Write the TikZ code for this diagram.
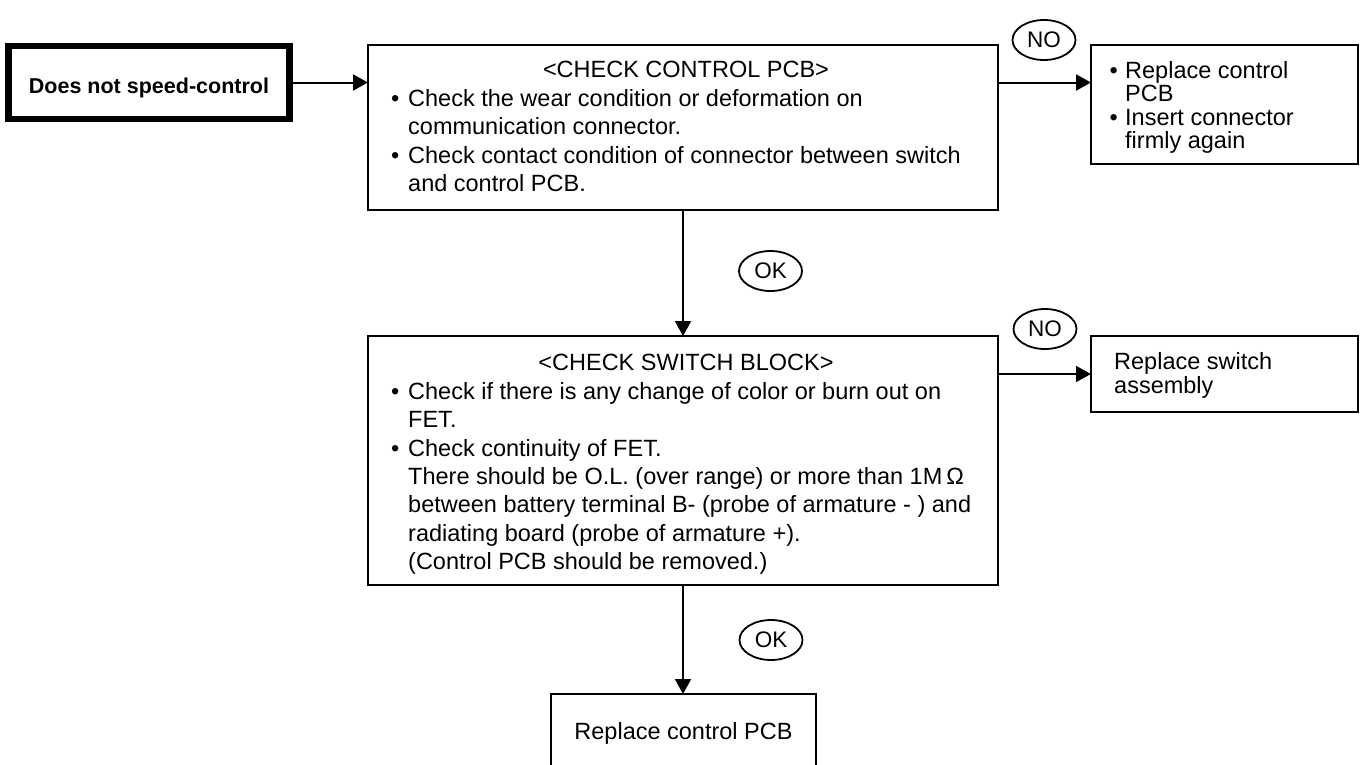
\documentclass[tikz,border=0pt]{standalone}
\usepackage{fontspec}
\setmainfont{Liberation Sans}
\usetikzlibrary{arrows.meta,shapes.geometric}
% bullet with a fixed-width slot, and the matching hanging indent
\newcommand{\bitem}[1][17pt]{\makebox[#1][l]{•}}
\newcommand{\bcont}[1][17pt]{\hspace*{#1}}
\begin{document}
\begin{tikzpicture}[x=1pt,y=-1pt,
  frame/.style={draw, rectangle, line width=2pt, inner sep=0pt, outer sep=0pt, anchor=north west},
  body/.style={inner sep=0pt, anchor=north west, align=left, font=\fontsize{23.5}{28.3}\selectfont},
  side/.style={inner sep=0pt, anchor=north west, align=left, font=\fontsize{23.5}{23.5}\selectfont},
  head/.style={inner sep=0pt, anchor=north, font=\fontsize{23.5}{28.3}\selectfont},
  verdict/.style={draw, ellipse, line width=1.8pt, inner sep=0pt, minimum width=63pt, minimum height=40pt, font=\fontsize{22.5}{22.5}\selectfont},
  flow/.style={line width=2pt, -{Triangle[length=15pt,width=16pt]}},
]
\fill[white] (0,0) rectangle (1361,764);
\useasboundingbox (0,0) rectangle (1361,764);
\clip (0,0) rectangle (1361,764);

% start condition
\node[frame, line width=6.5pt, minimum width=281pt, minimum height=73pt] (start) at (8.5,46) {};
\node[anchor=base, inner sep=0pt, font=\bfseries\fontsize{21.5}{21.5}\selectfont] (startlabel) at (149,93) {Does not speed-control};

% control PCB check
\node[frame, minimum width=630pt, minimum height=165pt] (pcb) at (368,45) {};
\node[head] (pcbhead) at (686,61) {<CHECK CONTROL PCB>};
\node[body] (pcbbody) at (391,89.3) {\bitem Check the wear condition or deformation on\\
  \bcont communication connector.\\
  \bitem Check contact condition of connector between switch\\
  \bcont and control PCB.};

\node[frame, minimum width=267pt, minimum height=119pt] (fixpcb) at (1091,45) {};
\node[side] (fixpcbtext) at (1109.5,61) {\bitem[15.5pt]Replace control\\
  \bcont[15.5pt]PCB\\
  \bitem[15.5pt]Insert connector\\
  \bcont[15.5pt]firmly again};
\node[verdict] (no1) at (1044,40) {NO};

% switch block check
\node[frame, minimum width=630pt, minimum height=249pt] (sw) at (368,336) {};
\node[head] (swhead) at (686,354) {<CHECK SWITCH BLOCK>};
\node[body] (swbody) at (391,382.3) {\bitem Check if there is any change of color or burn out on\\
  \bcont FET.\\
  \bitem Check continuity of FET.\\
  \bcont There should be O.L. (over range) or more than 1M\,Ω\\
  \bcont between battery terminal B- (probe of armature - ) and\\
  \bcont radiating board (probe of armature +).\\
  \bcont (Control PCB should be removed.)};
\node[verdict] (ok1) at (770.5,271) {OK};

\node[frame, minimum width=267pt, minimum height=76pt] (fixsw) at (1091,336) {};
\node[side, font=\fontsize{23.5}{24}\selectfont] (fixswtext) at (1114,352) {Replace switch\\ assembly};
\node[verdict] (no2) at (1045,329) {NO};

% final action
\node[verdict] (ok2) at (771,640) {OK};
\node[frame, minimum width=265pt, minimum height=100pt] (final) at (551,694) {};
\node[anchor=base, inner sep=0pt, font=\fontsize{23.5}{23.5}\selectfont] (finaltext) at (683.5,739) {Replace control PCB};

% connectors
\draw[flow] (start.east) -- (start.east -| pcb.west);
\draw[flow] (pcb.east |- start.east) -- (start.east -| fixpcb.west);
\draw[flow] (pcb.south) -- (sw.north);
\draw[flow, line width=1.3pt] (sw.east |- fixsw.west) -- (fixsw.west);
\draw[flow] (sw.south) -- (sw.south |- final.north);
\end{tikzpicture}
\end{document}
